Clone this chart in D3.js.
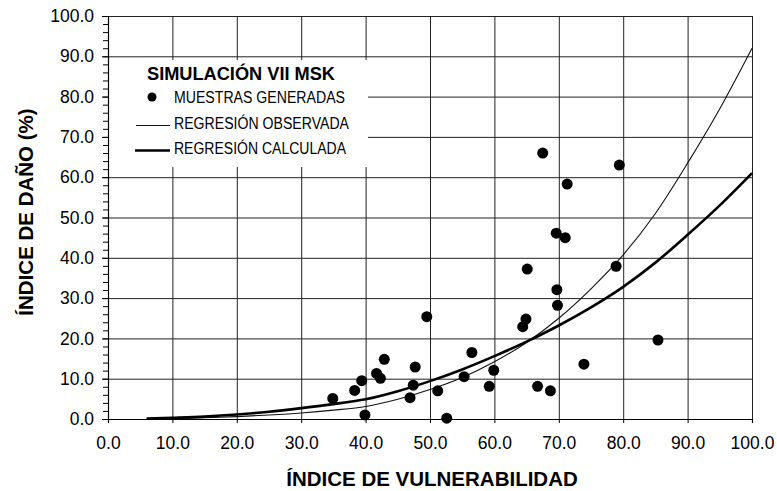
<!DOCTYPE html>
<html>
<head>
<meta charset="utf-8">
<script src="https://cdn.jsdelivr.net/npm/d3@7"></script>
<style>
  body { margin: 0; background: #fff; }
  svg { display: block; font-family: "Liberation Sans", Arial, sans-serif; }
</style>
</head>
<body>
<script>
// muestras generadas (índice de vulnerabilidad, índice de daño)
var vulnerabilidad = [34.9, 38.3, 39.4, 39.9, 41.7, 42.3, 42.9, 46.9, 47.4, 47.7, 49.5, 51.2, 52.6, 55.3, 56.5, 59.2,
                      59.9, 64.4, 64.9, 65.1, 66.7, 67.5, 68.7, 69.6, 69.7, 69.8, 71.0, 71.3, 73.9, 78.9, 79.4, 85.4];
var dano = [5.1, 7.1, 9.5, 1.0, 11.3, 10.1, 14.8, 5.3, 8.4, 12.9, 25.4, 7.0, 0.2, 10.5, 16.5, 8.1,
            12.1, 22.9, 24.8, 37.2, 8.1, 66.0, 7.0, 46.1, 32.1, 28.2, 45.0, 58.3, 13.6, 37.9, 63.0, 19.6];

// curvas de regresión
var curvaX = [6, 10, 15, 20, 25, 30, 35, 40, 45, 50, 55, 60, 65, 70, 75, 80, 85, 90, 95, 100];
var observada = [0.0, 0.1, 0.3, 0.6, 1.0, 1.5, 2.2, 3.1, 4.9, 7.3, 10.3, 14.2, 19.0, 25.0, 32.3, 40.7, 51.0, 63.5, 77.0, 92.0];
var calculada = [0.1, 0.3, 0.6, 1.1, 1.8, 2.7, 3.7, 4.9, 6.9, 9.4, 12.3, 15.6, 19.2, 23.2, 27.7, 32.8, 38.8, 45.7, 53.0, 61.0];

var ticksX = [0, 10, 20, 30, 40, 50, 60, 70, 80, 90, 100];
var ticksY = [0, 10, 20, 30, 40, 50, 60, 70, 80, 90, 100];
var minorY = d3.range(0, 101, 2);

var margin = {top: 16, right: 25, bottom: 72, left: 108},
    width = 777 - margin.left - margin.right,
    height = 491 - margin.top - margin.bottom;

var svg = d3.select("body").append("svg")
    .attr("width", 777)
    .attr("height", 491);

var g = svg.append("g")
    .attr("transform", "translate(" + margin.left + "," + margin.top + ")");

var xScale = d3.scaleLinear().domain([0, 100]).range([0, width]);
var yScale = d3.scaleLinear().domain([0, 100]).range([height, 0]);

// rejilla
g.append("g")
    .attr("class", "grid")
    .attr("transform", "translate(0," + height + ")")
    .call(d3.axisBottom(xScale).tickValues(ticksX).tickSize(-height).tickFormat(""))
    .call(function(s) { s.select(".domain").remove(); });

g.append("g")
    .attr("class", "grid")
    .call(d3.axisLeft(yScale).tickValues(ticksY).tickSize(-width).tickFormat(""))
    .call(function(s) { s.select(".domain").remove(); });

g.selectAll(".grid line").attr("stroke", "#222").attr("stroke-width", 1);

// caja de leyenda
g.append("rect")
    .attr("x", 1)
    .attr("y", 44)
    .attr("width", 259)
    .attr("height", 107)
    .attr("fill", "#fff");

var line = d3.line()
    .x(function(d) { return xScale(d[0]); })
    .y(function(d) { return yScale(d[1]); })
    .curve(d3.curveMonotoneX);

g.append("path")
    .datum(d3.zip(curvaX, observada))
    .attr("fill", "none")
    .attr("stroke", "#111")
    .attr("stroke-width", 1.1)
    .attr("d", line);

g.append("path")
    .datum(d3.zip(curvaX, calculada))
    .attr("fill", "none")
    .attr("stroke", "#000")
    .attr("stroke-width", 2.6)
    .attr("d", line);

g.selectAll("circle.muestra")
    .data(d3.zip(vulnerabilidad, dano))
    .enter()
    .append("circle")
    .attr("class", "muestra")
    .attr("r", 5.5)
    .attr("fill", "#000")
    .attr("cx", function(d) { return xScale(d[0]); })
    .attr("cy", function(d) { return yScale(d[1]); });

// ejes
var xAxis = g.append("g")
    .attr("transform", "translate(0," + height + ")")
    .call(d3.axisBottom(xScale).tickValues(ticksX).tickSize(4).tickPadding(14).tickFormat(d3.format(".1f")));

g.append("g")
    .call(d3.axisLeft(yScale).tickValues(minorY).tickSize(5).tickFormat(""))
    .call(function(s) { s.select(".domain").remove(); });

var yAxis = g.append("g")
    .call(d3.axisLeft(yScale).tickValues(ticksY).tickSize(6).tickPadding(8).tickFormat(d3.format(".1f")));

g.selectAll(".domain").attr("stroke", "#000").attr("stroke-width", 1.2);
g.selectAll(".tick line").attr("stroke", "#000");
g.selectAll(".tick text").attr("font-size", 17.5).attr("fill", "#000")
    .attr("font-family", "'Liberation Sans', Arial, sans-serif");
g.selectAll(".grid .tick line").attr("stroke", "#222");

// títulos de ejes
svg.append("text")
    .attr("x", 432)
    .attr("y", 486)
    .attr("text-anchor", "middle")
    .attr("font-size", 20.5)
    .attr("font-weight", "bold")
    .text("ÍNDICE DE VULNERABILIDAD");

svg.append("text")
    .attr("transform", "translate(33,212) rotate(-90)")
    .attr("text-anchor", "middle")
    .attr("font-size", 20.5)
    .attr("font-weight", "bold")
    .text("ÍNDICE DE DAÑO (%)");

// leyenda
var legend = svg.append("g");

legend.append("text")
    .attr("x", 147)
    .attr("y", 80)
    .attr("font-size", 18)
    .attr("font-weight", "bold")
    .attr("textLength", 188)
    .attr("lengthAdjust", "spacingAndGlyphs")
    .text("SIMULACIÓN VII MSK");

legend.append("circle")
    .attr("cx", 152)
    .attr("cy", 97)
    .attr("r", 4.5)
    .attr("fill", "#000");

legend.append("line")
    .attr("x1", 136).attr("x2", 170)
    .attr("y1", 125.5).attr("y2", 125.5)
    .attr("stroke", "#111")
    .attr("stroke-width", 1.1);

legend.append("line")
    .attr("x1", 135).attr("x2", 170)
    .attr("y1", 150.5).attr("y2", 150.5)
    .attr("stroke", "#000")
    .attr("stroke-width", 2.6);

var legendItems = [
    {label: "MUESTRAS GENERADAS", y: 102.7, len: 171},
    {label: "REGRESIÓN OBSERVADA", y: 129.3, len: 175},
    {label: "REGRESIÓN CALCULADA", y: 154, len: 172}
];

legend.selectAll("text.item")
    .data(legendItems)
    .enter()
    .append("text")
    .attr("class", "item")
    .attr("x", 174)
    .attr("y", function(d) { return d.y; })
    .attr("font-size", 16)
    .attr("textLength", function(d) { return d.len; })
    .attr("lengthAdjust", "spacingAndGlyphs")
    .text(function(d) { return d.label; });
</script>
</body>
</html>
